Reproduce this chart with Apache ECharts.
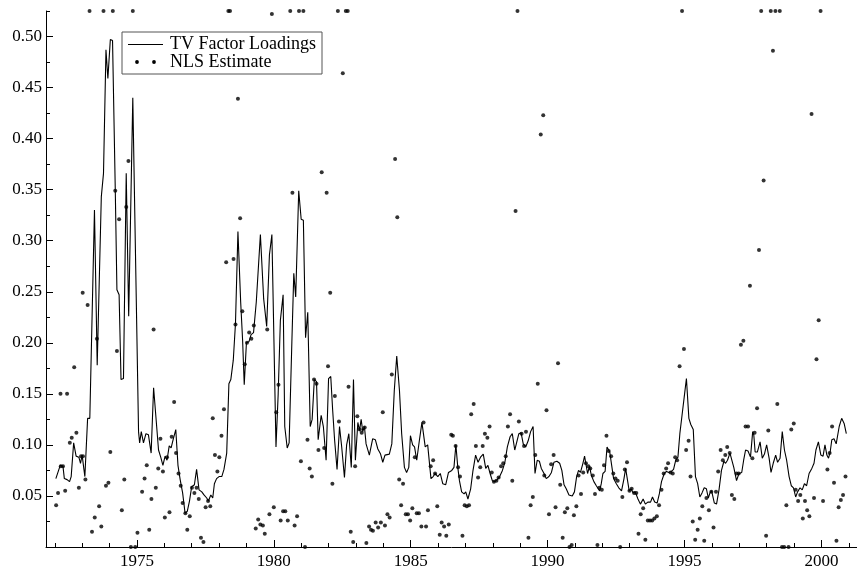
<!DOCTYPE html>
<html>
<head>
<meta charset="utf-8">
<script src="https://cdn.jsdelivr.net/npm/echarts@6/dist/echarts.min.js"></script>
<style>html,body{margin:0;padding:0;background:#fff}#c{width:857px;height:572px}</style>
</head>
<body>
<div id="c"></div>
<script>
// TV Factor Loadings (line): years and values
var tvYears = [1972.04,1972.2,1972.3,1972.35,1972.45,1972.54,1972.6,1972.69,1972.78,1972.88,1972.94,1973.0,1973.06,1973.1,1973.2,1973.28,1973.45,1973.55,1973.7,1973.78,1973.87,1973.94,1974.03,1974.11,1974.21,1974.27,1974.35,1974.42,1974.51,1974.61,1974.7,1974.85,1975.06,1975.1,1975.16,1975.24,1975.33,1975.42,1975.52,1975.61,1975.79,1975.87,1975.95,1976.03,1976.1,1976.18,1976.25,1976.33,1976.42,1976.5,1976.58,1976.67,1976.76,1976.84,1976.92,1977.0,1977.1,1977.18,1977.27,1977.37,1977.45,1977.55,1977.61,1977.7,1977.77,1977.83,1977.91,1978.0,1978.1,1978.18,1978.28,1978.36,1978.43,1978.52,1978.6,1978.69,1978.79,1978.86,1978.92,1979.0,1979.09,1979.17,1979.26,1979.36,1979.51,1979.63,1979.74,1979.84,1979.93,1980.0,1980.08,1980.16,1980.24,1980.34,1980.4,1980.49,1980.56,1980.66,1980.73,1980.8,1980.91,1981.0,1981.08,1981.16,1981.24,1981.33,1981.4,1981.48,1981.56,1981.62,1981.73,1981.81,1981.91,1982.0,1982.08,1982.15,1982.22,1982.31,1982.4,1982.48,1982.58,1982.66,1982.74,1982.83,1982.91,1982.98,1983.07,1983.13,1983.19,1983.25,1983.31,1983.37,1983.49,1983.61,1983.71,1983.8,1983.9,1983.98,1984.06,1984.22,1984.31,1984.4,1984.49,1984.59,1984.67,1984.77,1984.85,1984.93,1984.99,1985.07,1985.14,1985.22,1985.32,1985.41,1985.47,1985.53,1985.62,1985.68,1985.74,1985.82,1985.89,1985.99,1986.08,1986.17,1986.28,1986.38,1986.5,1986.58,1986.65,1986.72,1986.78,1986.86,1986.95,1987.01,1987.09,1987.19,1987.27,1987.37,1987.46,1987.55,1987.65,1987.74,1987.82,1987.9,1987.98,1988.07,1988.16,1988.25,1988.35,1988.44,1988.53,1988.63,1988.71,1988.8,1988.87,1988.95,1989.03,1989.11,1989.2,1989.29,1989.38,1989.47,1989.54,1989.62,1989.7,1989.77,1989.87,1989.95,1990.05,1990.14,1990.23,1990.34,1990.44,1990.52,1990.6,1990.68,1990.78,1990.9,1990.98,1991.06,1991.13,1991.2,1991.29,1991.35,1991.42,1991.46,1991.53,1991.6,1991.69,1991.78,1991.9,1991.96,1992.02,1992.1,1992.17,1992.27,1992.34,1992.41,1992.51,1992.6,1992.7,1992.79,1992.85,1992.91,1992.98,1993.05,1993.12,1993.2,1993.3,1993.39,1993.49,1993.57,1993.66,1993.76,1993.83,1993.91,1994.0,1994.08,1994.16,1994.26,1994.34,1994.43,1994.52,1994.6,1994.68,1994.76,1994.83,1994.91,1994.99,1995.07,1995.16,1995.23,1995.32,1995.4,1995.48,1995.56,1995.64,1995.72,1995.8,1995.87,1995.93,1995.99,1996.09,1996.17,1996.26,1996.35,1996.44,1996.5,1996.57,1996.66,1996.72,1996.8,1996.9,1996.99,1997.09,1997.16,1997.23,1997.32,1997.41,1997.49,1997.53,1997.58,1997.66,1997.76,1997.84,1997.92,1998.0,1998.09,1998.16,1998.24,1998.33,1998.4,1998.49,1998.57,1998.65,1998.73,1998.82,1998.9,1998.98,1999.06,1999.13,1999.22,1999.3,1999.38,1999.46,1999.55,1999.65,1999.73,1999.8,1999.89,1999.98,2000.06,2000.13,2000.2,2000.26,2000.32,2000.38,2000.46,2000.54,2000.65,2000.74,2000.83,2000.91];
var tvValues = [0.067,0.080,0.079,0.067,0.066,0.064,0.069,0.102,0.089,0.088,0.082,0.090,0.077,0.069,0.126,0.126,0.330,0.178,0.343,0.366,0.487,0.459,0.497,0.496,0.350,0.252,0.247,0.164,0.165,0.366,0.226,0.440,0.113,0.102,0.113,0.102,0.111,0.110,0.092,0.156,0.095,0.088,0.080,0.089,0.085,0.099,0.097,0.106,0.115,0.080,0.066,0.053,0.033,0.035,0.045,0.059,0.061,0.076,0.056,0.054,0.051,0.048,0.045,0.051,0.048,0.062,0.067,0.069,0.069,0.076,0.092,0.160,0.164,0.183,0.219,0.309,0.240,0.203,0.159,0.200,0.201,0.208,0.210,0.240,0.306,0.243,0.216,0.286,0.306,0.306,0.098,0.150,0.222,0.247,0.118,0.097,0.102,0.201,0.268,0.245,0.349,0.321,0.320,0.205,0.230,0.118,0.125,0.164,0.162,0.105,0.129,0.118,0.085,0.165,0.167,0.134,0.105,0.076,0.118,0.098,0.068,0.100,0.111,0.078,0.164,0.085,0.122,0.114,0.125,0.113,0.118,0.101,0.090,0.106,0.105,0.096,0.091,0.083,0.090,0.091,0.101,0.153,0.187,0.153,0.111,0.078,0.073,0.078,0.109,0.100,0.098,0.085,0.105,0.122,0.123,0.098,0.100,0.101,0.067,0.069,0.072,0.069,0.072,0.062,0.061,0.073,0.075,0.078,0.100,0.078,0.065,0.054,0.052,0.054,0.047,0.057,0.074,0.090,0.083,0.088,0.091,0.077,0.080,0.072,0.065,0.064,0.066,0.069,0.075,0.083,0.098,0.108,0.111,0.095,0.095,0.111,0.112,0.101,0.098,0.104,0.113,0.118,0.072,0.085,0.084,0.077,0.072,0.067,0.069,0.073,0.083,0.084,0.082,0.075,0.061,0.057,0.051,0.050,0.054,0.069,0.075,0.073,0.082,0.089,0.088,0.072,0.079,0.070,0.064,0.060,0.055,0.062,0.072,0.074,0.098,0.093,0.080,0.067,0.062,0.058,0.055,0.067,0.077,0.076,0.055,0.057,0.053,0.054,0.047,0.042,0.047,0.042,0.044,0.044,0.049,0.044,0.043,0.052,0.064,0.072,0.074,0.073,0.074,0.076,0.085,0.088,0.111,0.129,0.147,0.165,0.126,0.120,0.115,0.069,0.062,0.049,0.053,0.058,0.057,0.048,0.053,0.055,0.043,0.042,0.056,0.075,0.084,0.082,0.085,0.092,0.091,0.078,0.065,0.072,0.073,0.085,0.095,0.094,0.088,0.113,0.110,0.093,0.093,0.103,0.087,0.091,0.100,0.087,0.073,0.082,0.090,0.083,0.087,0.113,0.095,0.085,0.069,0.060,0.058,0.049,0.054,0.058,0.056,0.062,0.060,0.072,0.077,0.082,0.095,0.103,0.090,0.089,0.100,0.090,0.087,0.093,0.105,0.106,0.101,0.118,0.126,0.121,0.111];

// NLS Estimate (dots): values at the plot top (0.525) or bottom (0) are clipped there in the picture
var nlsYears = [1972.05,1972.12,1972.21,1972.22,1972.3,1972.38,1972.45,1972.55,1972.62,1972.71,1972.79,1972.88,1972.96,1973.02,1973.03,1973.12,1973.2,1973.27,1973.36,1973.46,1973.54,1973.62,1973.7,1973.78,1973.87,1973.96,1974.03,1974.12,1974.21,1974.27,1974.35,1974.45,1974.54,1974.61,1974.69,1974.78,1974.85,1974.94,1975.02,1975.19,1975.28,1975.36,1975.45,1975.53,1975.61,1975.69,1975.78,1975.86,1975.95,1976.02,1976.1,1976.19,1976.27,1976.36,1976.43,1976.52,1976.6,1976.67,1976.77,1976.84,1976.93,1977.01,1977.1,1977.18,1977.26,1977.34,1977.43,1977.51,1977.6,1977.68,1977.77,1977.85,1977.94,1978.01,1978.09,1978.18,1978.26,1978.34,1978.4,1978.53,1978.6,1978.69,1978.77,1978.85,1978.94,1979.02,1979.1,1979.18,1979.27,1979.34,1979.43,1979.51,1979.6,1979.67,1979.76,1979.84,1979.93,1980.0,1980.09,1980.17,1980.25,1980.34,1980.42,1980.51,1980.6,1980.68,1980.76,1980.85,1980.92,1980.99,1981.08,1981.14,1981.23,1981.31,1981.39,1981.47,1981.56,1981.63,1981.75,1981.84,1981.93,1981.98,1982.06,1982.14,1982.23,1982.34,1982.38,1982.52,1982.63,1982.7,1982.73,1982.81,1982.9,1982.97,1983.05,1983.14,1983.21,1983.32,1983.38,1983.48,1983.55,1983.62,1983.72,1983.81,1983.91,1983.98,1984.06,1984.15,1984.23,1984.31,1984.43,1984.51,1984.58,1984.65,1984.72,1984.82,1984.9,1984.98,1985.06,1985.15,1985.22,1985.3,1985.39,1985.47,1985.56,1985.63,1985.73,1985.82,1985.89,1985.97,1986.06,1986.13,1986.22,1986.3,1986.39,1986.48,1986.54,1986.64,1986.73,1986.8,1986.89,1986.97,1987.05,1987.13,1987.21,1987.3,1987.38,1987.46,1987.54,1987.63,1987.71,1987.8,1987.88,1987.96,1988.04,1988.13,1988.21,1988.3,1988.38,1988.47,1988.55,1988.63,1988.71,1988.83,1988.9,1988.95,1989.05,1989.14,1989.21,1989.3,1989.38,1989.46,1989.55,1989.64,1989.75,1989.84,1989.88,1989.96,1990.05,1990.13,1990.22,1990.29,1990.38,1990.46,1990.55,1990.63,1990.72,1990.8,1990.88,1990.96,1991.05,1991.13,1991.22,1991.3,1991.4,1991.49,1991.56,1991.65,1991.73,1991.82,1991.89,1991.98,1992.06,1992.15,1992.23,1992.32,1992.4,1992.48,1992.56,1992.65,1992.73,1992.82,1992.9,1992.99,1993.07,1993.16,1993.24,1993.32,1993.4,1993.49,1993.57,1993.66,1993.74,1993.82,1993.9,1993.99,1994.07,1994.16,1994.24,1994.33,1994.4,1994.49,1994.57,1994.66,1994.73,1994.82,1994.91,1994.98,1995.06,1995.15,1995.22,1995.3,1995.39,1995.48,1995.56,1995.65,1995.72,1995.8,1995.89,1995.98,1996.06,1996.15,1996.23,1996.32,1996.4,1996.49,1996.56,1996.65,1996.73,1996.82,1996.9,1996.98,1997.06,1997.15,1997.23,1997.32,1997.39,1997.48,1997.56,1997.65,1997.72,1997.8,1997.89,1997.98,1998.06,1998.15,1998.23,1998.32,1998.39,1998.48,1998.56,1998.64,1998.72,1998.8,1998.9,1998.99,1999.06,1999.15,1999.23,1999.32,1999.4,1999.48,1999.56,1999.64,1999.73,1999.82,1999.9,1999.97,2000.06,2000.22,2000.3,2000.39,2000.46,2000.55,2000.63,2000.71,2000.79,2000.88];
var nlsValues = [0.041,0.053,0.150,0.079,0.079,0.055,0.150,0.102,0.107,0.176,0.112,0.058,0.089,0.249,0.089,0.066,0.237,0.525,0.015,0.029,0.204,0.040,0.020,0.525,0.060,0.063,0.093,0.525,0.349,0.192,0.321,0.036,0.066,0.333,0.378,0.0,0.525,0.0,0.014,0.054,0.067,0.080,0.017,0.047,0.213,0.058,0.077,0.106,0.074,0.029,0.088,0.034,0.108,0.142,0.092,0.072,0.060,0.043,0.033,0.017,0.030,0.058,0.053,0.058,0.047,0.009,0.005,0.039,0.045,0.040,0.126,0.090,0.074,0.088,0.109,0.135,0.279,0.525,0.525,0.282,0.218,0.439,0.322,0.231,0.179,0.200,0.210,0.204,0.217,0.018,0.027,0.022,0.021,0.013,0.213,0.032,0.522,0.039,0.132,0.159,0.026,0.035,0.035,0.026,0.525,0.347,0.021,0.030,0.525,0.084,0.525,0.0,0.105,0.077,0.069,0.164,0.160,0.095,0.367,0.097,0.347,0.177,0.249,0.062,0.148,0.525,0.123,0.464,0.525,0.525,0.157,0.015,0.005,0.079,0.128,0.115,0.112,0.117,0.004,0.020,0.017,0.016,0.024,0.019,0.024,0.132,0.021,0.032,0.029,0.169,0.380,0.323,0.066,0.041,0.062,0.032,0.032,0.026,0.038,0.088,0.033,0.033,0.020,0.122,0.020,0.036,0.079,0.085,0.072,0.040,0.012,0.024,0.020,0.011,0.022,0.110,0.109,0.099,0.078,0.069,0.011,0.041,0.040,0.041,0.130,0.140,0.099,0.068,0.078,0.099,0.111,0.107,0.118,0.073,0.064,0.065,0.068,0.079,0.082,0.089,0.118,0.130,0.065,0.329,0.525,0.123,0.111,0.099,0.113,0.009,0.041,0.049,0.090,0.160,0.404,0.423,0.070,0.134,0.032,0.081,0.090,0.039,0.180,0.061,0.009,0.034,0.038,0.0,0.002,0.031,0.040,0.070,0.052,0.073,0.082,0.079,0.077,0.070,0.052,0.002,0.058,0.056,0.080,0.109,0.094,0.089,0.072,0.067,0.065,0.0,0.049,0.076,0.083,0.055,0.057,0.053,0.053,0.013,0.032,0.038,0.007,0.026,0.026,0.026,0.028,0.030,0.041,0.056,0.072,0.077,0.082,0.073,0.072,0.088,0.085,0.177,0.525,0.194,0.095,0.104,0.069,0.025,0.007,0.017,0.028,0.040,0.006,0.048,0.036,0.054,0.019,0.054,0.074,0.095,0.085,0.090,0.098,0.092,0.051,0.047,0.072,0.072,0.198,0.202,0.118,0.118,0.256,0.087,0.112,0.136,0.291,0.525,0.359,0.011,0.114,0.525,0.486,0.525,0.140,0.525,0.0,0.0,0.041,0.0,0.115,0.121,0.056,0.045,0.051,0.028,0.045,0.036,0.030,0.424,0.048,0.184,0.222,0.525,0.045,0.076,0.092,0.118,0.063,0.006,0.039,0.046,0.051,0.069];

// Axis ticks and labels
var xLabelYears = [1975,1980,1985,1990,1995,2000];
var xMinorYears = [1972,1973,1974,1976,1977,1978,1979,1981,1982,1983,1984,1986,1987,1988,1989,1991,1992,1993,1994,1996,1997,1998,1999,2001];
var yLabelValues = [0.05,0.10,0.15,0.20,0.25,0.30,0.35,0.40,0.45,0.50];
var yMinorValues = [0.025,0.075,0.125,0.175,0.225,0.275,0.325,0.375,0.425,0.475,0.525];

var FONT = 'Liberation Serif';
function pairs(xs, ys){ return xs.map(function(x,i){ return [x, ys[i]]; }); }

var chart = echarts.init(document.getElementById('c'), null, {renderer:'canvas'});
var xMin = 1971.68, xMax = 2001.3, yMin = 0, yMax = 0.525;
var option = {
  backgroundColor: '#fff',
  animation: false,
  grid: {left: 46, right: 0, top: 11, bottom: 25, containLabel: false},
  xAxis: [{
    type: 'value', min: xMin, max: xMax, position: 'bottom',
    splitLine: {show: false},
    axisLine: {show: true, onZero: false, lineStyle: {color: '#000', width: 1}},
    axisTick: {show: true, inside: true, length: 7, customValues: xLabelYears, lineStyle: {color: '#000'}},
    axisLabel: {show: true, customValues: xLabelYears, margin: 6, color: '#000', fontFamily: FONT, fontSize: 17, formatter: function(v){ return String(Math.round(v)); }}
  }, {
    type: 'value', min: xMin, max: xMax, position: 'bottom',
    splitLine: {show: false},
    axisLine: {show: false},
    axisTick: {show: true, inside: true, length: 4, customValues: xMinorYears, lineStyle: {color: '#000'}},
    axisLabel: {show: false}
  }],
  yAxis: [{
    type: 'value', min: yMin, max: yMax, position: 'left',
    splitLine: {show: false},
    axisLine: {show: true, onZero: false, lineStyle: {color: '#000', width: 1}},
    axisTick: {show: true, inside: true, length: 7, customValues: yLabelValues, lineStyle: {color: '#000'}},
    axisLabel: {show: true, customValues: yLabelValues, margin: 4, color: '#000', fontFamily: FONT, fontSize: 17, formatter: function(v){ return v.toFixed(2); }}
  }, {
    type: 'value', min: yMin, max: yMax, position: 'left',
    splitLine: {show: false},
    axisLine: {show: false},
    axisTick: {show: true, inside: true, length: 4, customValues: yMinorValues, lineStyle: {color: '#000'}},
    axisLabel: {show: false}
  }],
  series: [{
    name: 'TV Factor Loadings', type: 'line', xAxisIndex: 0, yAxisIndex: 0,
    data: pairs(tvYears, tvValues), showSymbol: false, symbol: 'none',
    lineStyle: {color: '#000', width: 1.1}, clip: true, z: 2
  }, {
    name: 'NLS Estimate', type: 'scatter', xAxisIndex: 0, yAxisIndex: 0,
    data: pairs(nlsYears, nlsValues), symbol: 'circle', symbolSize: 4,
    itemStyle: {color: '#000'}, clip: false, z: 3
  }],
  graphic: [
    {type: 'rect', shape: {x: 122, y: 32, width: 200, height: 42}, style: {fill: '#fff', stroke: '#555', lineWidth: 1}, z: 10},
    {type: 'line', shape: {x1: 128, y1: 44.5, x2: 163, y2: 44.5}, style: {stroke: '#000', lineWidth: 1}, z: 11},
    {type: 'text', x: 170, y: 44.5, style: {text: 'TV Factor Loadings', fill: '#000', font: '18px "Liberation Serif"', verticalAlign: 'middle', align: 'left'}, z: 11},
    {type: 'circle', shape: {cx: 137, cy: 62, r: 1.9}, style: {fill: '#000'}, z: 11},
    {type: 'circle', shape: {cx: 154, cy: 62, r: 1.9}, style: {fill: '#000'}, z: 11},
    {type: 'text', x: 170, y: 62, style: {text: 'NLS Estimate', fill: '#000', font: '18px "Liberation Serif"', verticalAlign: 'middle', align: 'left'}, z: 11}
  ]
};
chart.setOption(option);
</script>
</body>
</html>
